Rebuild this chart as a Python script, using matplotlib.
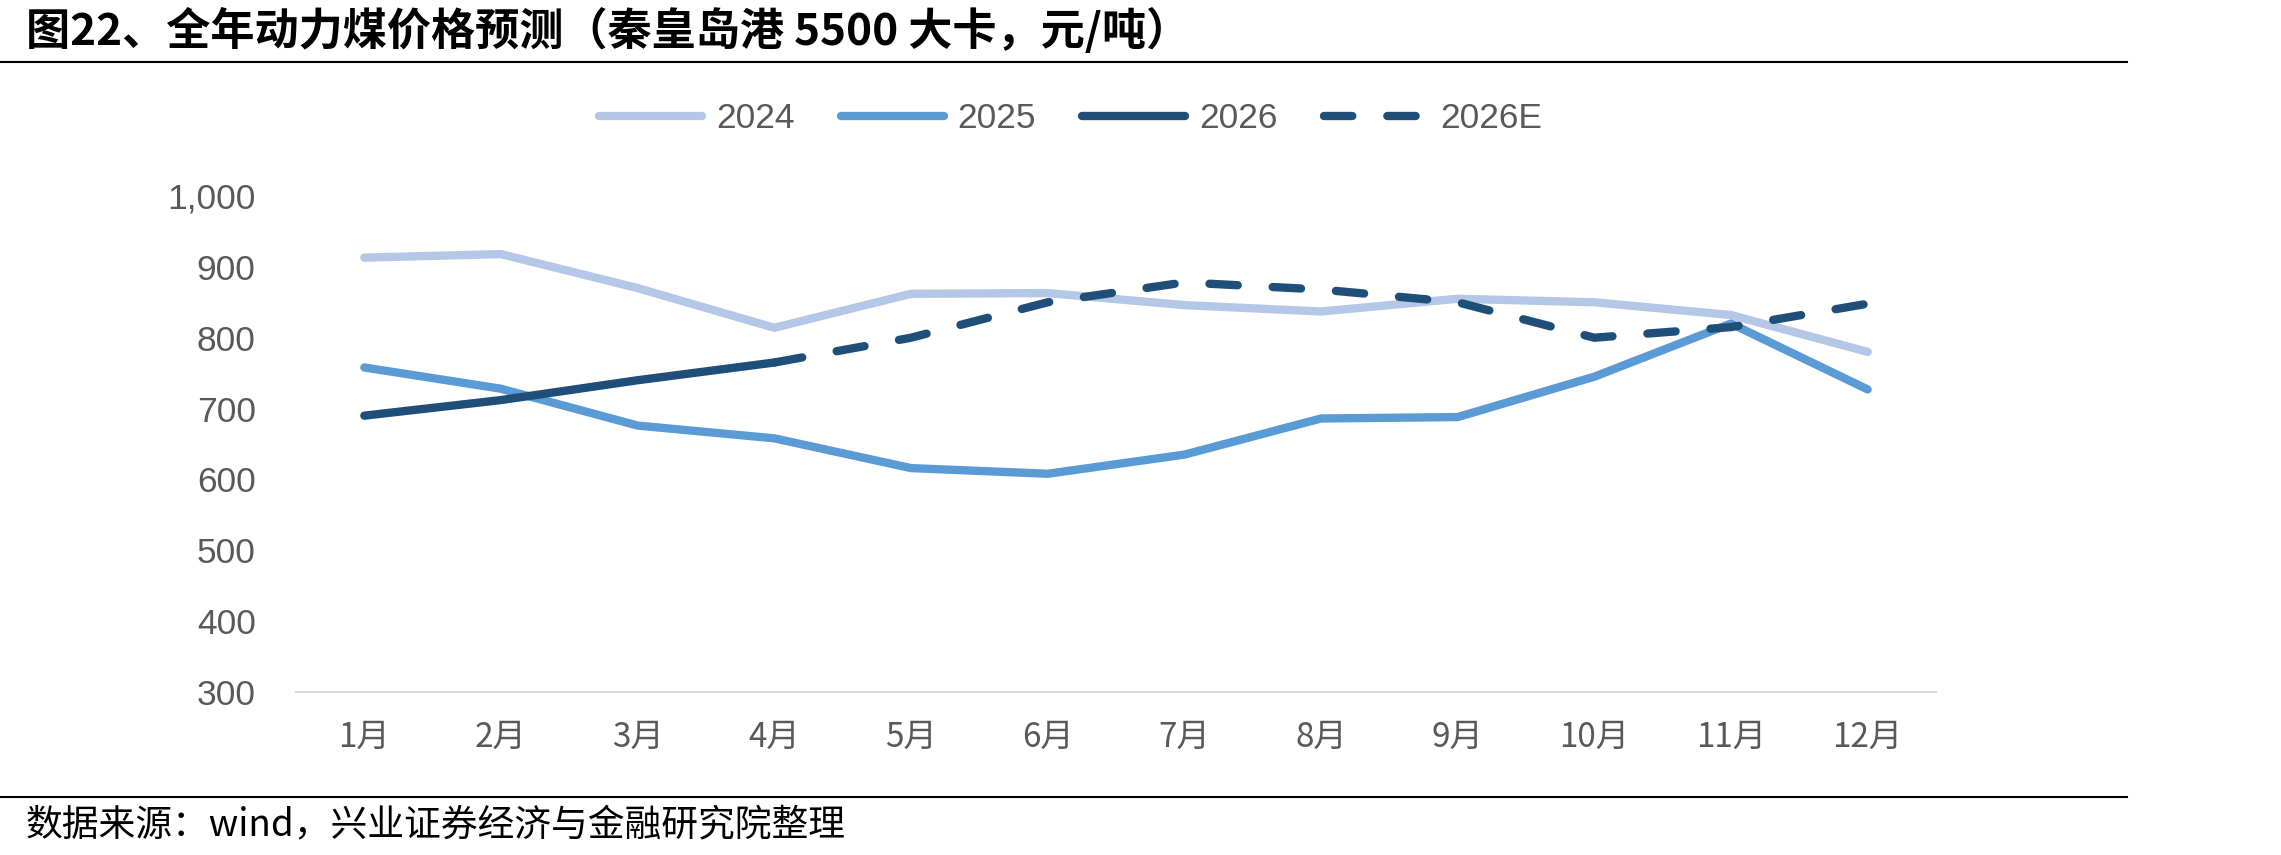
import matplotlib
matplotlib.use("Agg")
import matplotlib.pyplot as plt
from matplotlib import font_manager as fm
from matplotlib.lines import Line2D

months = ["1月", "2月", "3月", "4月", "5月", "6月", "7月", "8月", "9月", "10月", "11月", "12月"]
y2024 = [913, 918, 870, 814, 862, 863, 846, 837, 855, 850, 832, 780]
y2025 = [758, 728, 676, 658, 616, 608, 635, 686, 688, 745, 820, 727]
y2026 = [690, 712, 740, 765]
y2026e = [765, 800, 850, 878, 868, 850, 800, 815, 848]
yticks = [300, 400, 500, 600, 700, 800, 900, 1000]

names = {f.name for f in fm.fontManager.ttflist}
narrow = "Liberation Sans Narrow" if "Liberation Sans Narrow" in names else "Liberation Sans"
cjk = "Noto Sans CJK SC"

c24, c25, c26 = "#B4C7E7", "#5B9BD5", "#1F4E79"
grey = "#595959"

fig = plt.figure(figsize=(22.81, 8.55), dpi=100)
ax = fig.add_axes([296 / 2281, 1 - 692 / 855, (1936 - 296) / 2281, (692 - 196) / 855])

x = list(range(len(months)))
lw = 6
ax.plot(x, y2024, color=c24, lw=lw, solid_capstyle="round", solid_joinstyle="round", zorder=2)
ax.plot(x, y2025, color=c25, lw=lw, solid_capstyle="round", solid_joinstyle="round", zorder=3)
ax.plot(x[:len(y2026)], y2026, color=c26, lw=lw, solid_capstyle="round", solid_joinstyle="round", zorder=4)
xe = x[len(y2026) - 1:]
ax.plot(xe, y2026e, color=c26, lw=lw, dashes=(3.4, 4.2), dash_capstyle="round", zorder=4)

ax.set_xlim(-0.5, 11.5)
ax.set_ylim(300, 1000)
ax.set_yticks(yticks)
ax.set_yticklabels([f"{v:,}" for v in yticks], fontfamily=narrow, fontsize=25.5, color=grey)
ax.set_xticks(x)
ax.set_xticklabels(months, fontfamily=cjk, fontsize=24, color=grey)
ax.tick_params(axis="y", length=0, pad=29)
ax.tick_params(axis="x", length=0, pad=20)
for s in ["top", "right", "left"]:
    ax.spines[s].set_visible(False)
ax.spines["bottom"].set_color("#D9D9D9")
ax.spines["bottom"].set_linewidth(1.5)

handles = [
    Line2D([], [], color=c24, lw=lw, solid_capstyle="round"),
    Line2D([], [], color=c25, lw=lw, solid_capstyle="round"),
    Line2D([], [], color=c26, lw=lw, solid_capstyle="round"),
    Line2D([], [], color=c26, lw=lw, dashes=(3.4, 4.2), dash_capstyle="round"),
]
leg = fig.legend(handles, ["2024", "2025", "2026", "2026E"], loc="center",
                 bbox_to_anchor=(0.4695, 1 - 119 / 855), ncol=4, frameon=False,
                 prop={"family": narrow, "size": 25.5}, handlelength=2.9,
                 handletextpad=0.4, columnspacing=1.3)
for t in leg.get_texts():
    t.set_color(grey)

fig.text(26 / 2281, 1 - 31 / 855, "图22、全年动力煤价格预测（秦皇岛港 5500 大卡，元/吨）",
         fontfamily=cjk, fontsize=31.8, fontweight="bold", va="center", ha="left", color="black")
fig.add_artist(Line2D([0, 2127 / 2281], [1 - 62 / 855, 1 - 62 / 855], color="black", lw=1.5,
                      transform=fig.transFigure))
fig.add_artist(Line2D([0, 2127 / 2281], [1 - 797 / 855, 1 - 797 / 855], color="black", lw=1.5,
                      transform=fig.transFigure))
fig.text(26 / 2281, 1 - 825 / 855, "数据来源：wind，兴业证券经济与金融研究院整理",
         fontfamily=cjk, fontsize=26.5, va="center", ha="left", color="black")

fig.savefig("out.png", dpi=100)
